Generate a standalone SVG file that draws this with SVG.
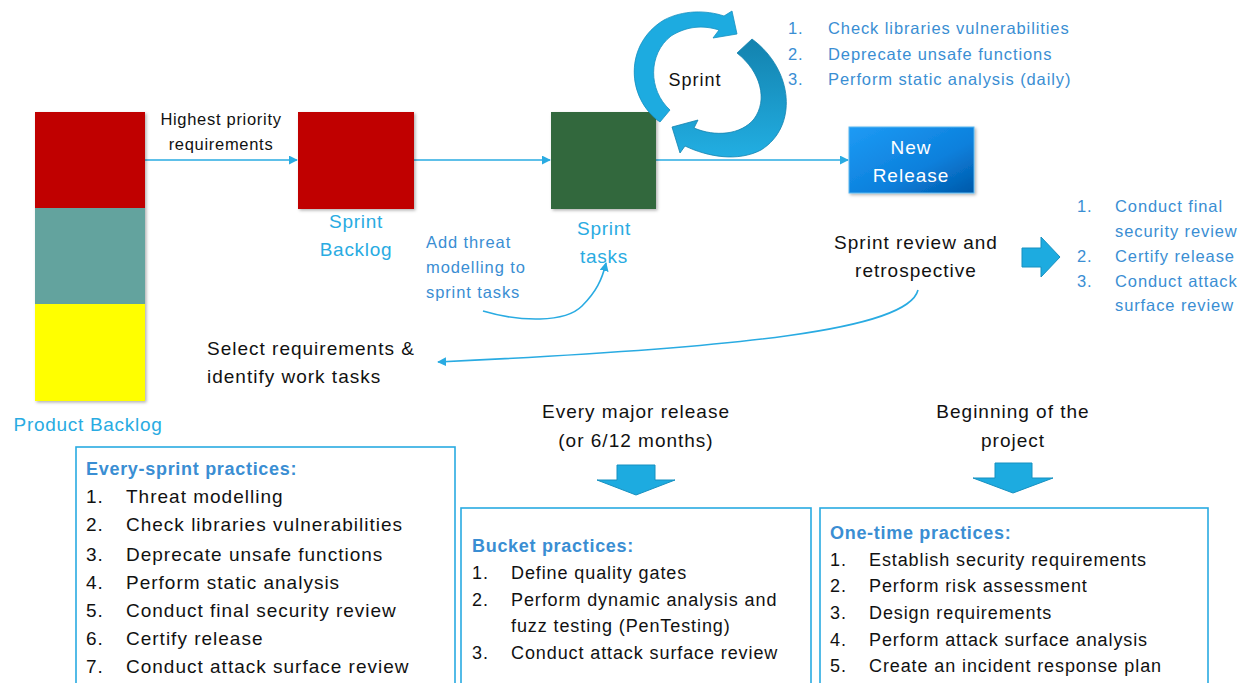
<svg xmlns="http://www.w3.org/2000/svg" width="1256" height="683" viewBox="0 0 1256 683">
<defs>
<style>
text{font-family:"Liberation Sans",Arial,sans-serif}
.k{fill:#111;font-size:19px;letter-spacing:1px}
.k16{fill:#111;font-size:16.5px;letter-spacing:0.7px}
.lb{fill:#29ABE2;font-size:19px;letter-spacing:0.7px}
.bl{fill:#3A8ED3;font-size:16.5px;letter-spacing:0.9px}
.b1{fill:#111;font-size:19px;letter-spacing:1px}
.b2{fill:#111;font-size:18px;letter-spacing:0.9px}
.ttl{fill:#3A8ED3;font-size:18px;font-weight:bold;letter-spacing:0.7px}
.wt{fill:#fff;font-size:19px;letter-spacing:1px}
.mid{text-anchor:middle}
.con{fill:none;stroke:#29ABE2;stroke-width:1.6}
.box{fill:#fff;stroke:#29ABE2;stroke-width:1.6}
.blk{fill:#1DABE0;stroke:#1790C0;stroke-width:1}
</style>
<marker id="ah" viewBox="0 0 10 10" refX="9" refY="5" markerWidth="9" markerHeight="9" markerUnits="userSpaceOnUse" orient="auto">
<path d="M0,0 L10,5 L0,10 Z" fill="#29ABE2"/>
</marker>
<filter id="sh" x="-10%" y="-10%" width="130%" height="130%">
<feDropShadow dx="1.5" dy="1.5" stdDeviation="1.5" flood-color="#000" flood-opacity="0.3"/>
</filter>
<linearGradient id="nr" x1="0" y1="0" x2="1" y2="1">
<stop offset="0" stop-color="#1E9BF5"/>
<stop offset="0.6" stop-color="#0C80DC"/>
<stop offset="1" stop-color="#0058A8"/>
</linearGradient>
<linearGradient id="ra" x1="0" y1="0" x2="0" y2="1">
<stop offset="0" stop-color="#1382AE"/>
<stop offset="1" stop-color="#22AEE2"/>
</linearGradient>
</defs>

<g id="connectors">
<path class="con" d="M145,160 L297,160" marker-end="url(#ah)"/>
<path class="con" d="M414,160 L550,160" marker-end="url(#ah)"/>
<path class="con" d="M656,160 L848,160" marker-end="url(#ah)"/>
<path class="con" d="M483,311 C520,322 565,323 582,306 C596,292 602,280 606,263" marker-end="url(#ah)"/>
<path class="con" d="M918,290 C908,330 740,348 438,362" marker-end="url(#ah)"/>
</g>

<g id="product-backlog" filter="url(#sh)">
<rect x="35" y="112" width="110" height="96" fill="#C00000"/>
<rect x="35" y="208" width="110" height="96" fill="#64A39E"/>
<rect x="35" y="304" width="110" height="97" fill="#FFFF00"/>
</g>
<text class="lb mid" x="88" y="431">Product Backlog</text>

<g id="highest-label">
<text class="k16 mid" x="221" y="125">Highest priority</text>
<text class="k16 mid" x="221" y="150">requirements</text>
</g>

<g id="sprint-backlog">
<rect x="298" y="112" width="116" height="97" fill="#C00000" filter="url(#sh)"/>
<text class="lb mid" x="356" y="228">Sprint</text>
<text class="lb mid" x="356" y="256">Backlog</text>
</g>

<g id="sprint-tasks">
<rect x="551" y="112" width="105" height="97" fill="#31683E" filter="url(#sh)"/>
<text class="lb mid" x="604" y="235">Sprint</text>
<text class="lb mid" x="604" y="263">tasks</text>
</g>

<g id="threat-note">
<text class="bl" x="426" y="248">Add threat</text>
<text class="bl" x="426" y="273">modelling to</text>
<text class="bl" x="426" y="298">sprint tasks</text>
</g>

<g id="sprint-cycle">
<path d="M660,122 C626,98 624,44 664,20 C683,10 706,10 724,16 L732,11 L737,34 L713,38 L719,30 C703,25 687,26 671,36 C648,54 648,90 670,110 Z" fill="#1DABE0" stroke="#1790C0" stroke-width="0.8"/>
<path d="M752,39 C794,70 798,127 761,150 C738,162 708,157 685,146 L680,153 L672,127 L698,120 L694,128 C715,137 741,135 754,119 C768,100 761,72 737,53 Z" fill="url(#ra)" stroke="#1382AE" stroke-width="0.8"/>
<text class="k mid" x="695" y="86" style="font-size:18px">Sprint</text>
</g>

<g id="sprint-practices">
<text class="bl" x="788" y="34">1.</text><text class="bl" x="828" y="34">Check libraries vulnerabilities</text>
<text class="bl" x="788" y="60">2.</text><text class="bl" x="828" y="60">Deprecate unsafe functions</text>
<text class="bl" x="788" y="85">3.</text><text class="bl" x="828" y="85">Perform static analysis (daily)</text>
</g>

<g id="new-release">
<rect x="849" y="127" width="125" height="66" fill="url(#nr)" stroke="#5BB8F0" stroke-width="1" filter="url(#sh)"/>
<text class="wt mid" x="911" y="154">New</text>
<text class="wt mid" x="911" y="182">Release</text>
</g>

<g id="review">
<text class="k mid" x="916" y="249">Sprint review and</text>
<text class="k mid" x="916" y="277">retrospective</text>
</g>

<g id="review-arrow">
<path class="blk" d="M1022,248 L1041,248 L1041,237 L1060,257 L1041,277 L1041,267 L1022,267 Z"/>
</g>

<g id="release-practices">
<text class="bl" x="1077" y="212">1.</text><text class="bl" x="1115" y="212">Conduct final</text>
<text class="bl" x="1115" y="237">security review</text>
<text class="bl" x="1077" y="262">2.</text><text class="bl" x="1115" y="262">Certify release</text>
<text class="bl" x="1077" y="287">3.</text><text class="bl" x="1115" y="287">Conduct attack</text>
<text class="bl" x="1115" y="311">surface review</text>
</g>

<g id="select-label">
<text class="k" x="207" y="355">Select requirements &amp;</text>
<text class="k" x="207" y="383">identify work tasks</text>
</g>

<g id="every-sprint-box">
<rect class="box" x="76" y="447" width="379" height="250"/>
<text class="ttl" x="86" y="475">Every-sprint practices:</text>
<text class="b1" x="86" y="503">1.</text><text class="b1" x="126" y="503">Threat modelling</text>
<text class="b1" x="86" y="531">2.</text><text class="b1" x="126" y="531">Check libraries vulnerabilities</text>
<text class="b1" x="86" y="561">3.</text><text class="b1" x="126" y="561">Deprecate unsafe functions</text>
<text class="b1" x="86" y="589">4.</text><text class="b1" x="126" y="589">Perform static analysis</text>
<text class="b1" x="86" y="617">5.</text><text class="b1" x="126" y="617">Conduct final security review</text>
<text class="b1" x="86" y="645">6.</text><text class="b1" x="126" y="645">Certify release</text>
<text class="b1" x="86" y="673">7.</text><text class="b1" x="126" y="673">Conduct attack surface review</text>
</g>

<g id="major-release">
<text class="k mid" x="636" y="418">Every major release</text>
<text class="k mid" x="636" y="447">(or 6/12 months)</text>
<path class="blk" d="M617,465 L655,465 L655,480 L675,480 L636,495 L597,480 L617,480 Z"/>
</g>

<g id="bucket-box">
<rect class="box" x="461" y="508" width="350" height="190"/>
<text class="ttl" x="472" y="552">Bucket practices:</text>
<text class="b2" x="472" y="579">1.</text><text class="b2" x="511" y="579">Define quality gates</text>
<text class="b2" x="472" y="606">2.</text><text class="b2" x="511" y="606">Perform dynamic analysis and</text>
<text class="b2" x="511" y="632">fuzz testing (PenTesting)</text>
<text class="b2" x="472" y="659">3.</text><text class="b2" x="511" y="659">Conduct attack surface review</text>
</g>

<g id="project-start">
<text class="k mid" x="1013" y="418">Beginning of the</text>
<text class="k mid" x="1013" y="447">project</text>
<path class="blk" d="M995,463 L1032,463 L1032,478 L1053,478 L1013,493 L973,478 L995,478 Z"/>
</g>

<g id="one-time-box">
<rect class="box" x="820" y="508" width="388" height="190"/>
<text class="ttl" x="830" y="539">One-time practices:</text>
<text class="b2" x="830" y="566">1.</text><text class="b2" x="869" y="566">Establish security requirements</text>
<text class="b2" x="830" y="592">2.</text><text class="b2" x="869" y="592">Perform risk assessment</text>
<text class="b2" x="830" y="619">3.</text><text class="b2" x="869" y="619">Design requirements</text>
<text class="b2" x="830" y="646">4.</text><text class="b2" x="869" y="646">Perform attack surface analysis</text>
<text class="b2" x="830" y="672">5.</text><text class="b2" x="869" y="672">Create an incident response plan</text>
</g>
</svg>
